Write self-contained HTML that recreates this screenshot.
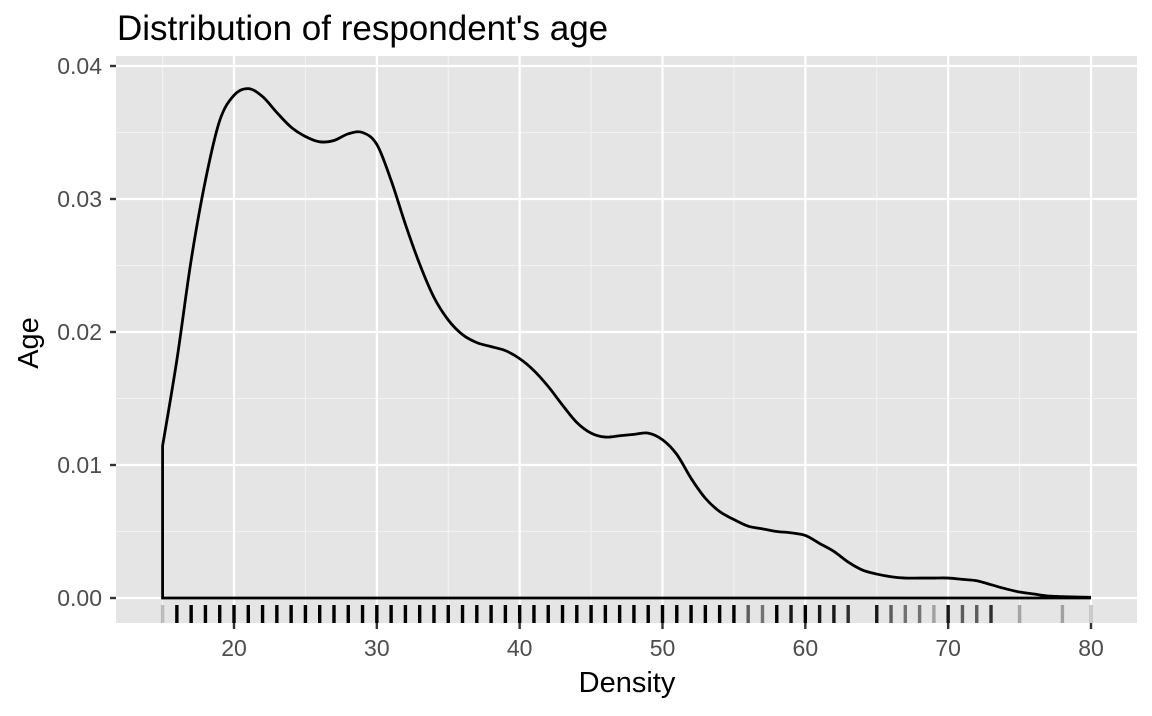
<!DOCTYPE html>
<html><head><meta charset="utf-8"><style>
body{margin:0;background:#fff;}
text{font-family:"Liberation Sans",Arial,sans-serif;}
</style></head><body>
<svg width="1152" height="711">
<text x="117" y="40" font-size="35" fill="#000">Distribution of respondent's age</text>
<rect x="116" y="56" width="1021" height="567" fill="#e5e5e5"/>
<g id="grid"></g>
<g id="rug"></g>
<path id="curve" fill="none" stroke="#000" stroke-width="2.8"/>
<g id="axes"></g>
<text x="627" y="692" font-size="29" text-anchor="middle">Density</text>
<text transform="translate(38,343) rotate(-90)" font-size="29" text-anchor="middle">Age</text>
</svg>
<script>
const ages=[15,16,17,18,19,20,21,22,23,24,25,26,27,28,29,30,31,32,33,34,35,36,37,38,39,40,41,42,43,44,45,46,47,48,49,50,51,52,53,54,55,56,57,58,59,60,61,62,63,64,65,66,67,68,69,70,71,72,73,74,75,76,77,78,79,80];
const density=[.01143,.0179,.0254,.0314,.0359,.0378,.0383,.0377,.0365,.0354,.0347,.0343,.0344,.0349,.0350,.0341,.0314,.0281,.0251,.0226,.0209,.0198,.0192,.0189,.0186,.0180,.0171,.0159,.0145,.0132,.0124,.0121,.0122,.0123,.0124,.0119,.0108,.0090,.0075,.0065,.0059,.0054,.0052,.0050,.0049,.0047,.0041,.0035,.0027,.0021,.0018,.0016,.0015,.0015,.0015,.0015,.0014,.0013,.0010,.0007,.00045,.0003,.00015,.0001,.00007,.00005];
const rugAges=[15,16,17,18,19,20,21,22,23,24,25,26,27,28,29,30,31,32,33,34,35,36,37,38,39,40,41,42,43,44,45,46,47,48,49,50,51,52,53,54,55,56,57,58,59,60,61,62,63,65,66,67,68,69,70,71,72,73,75,78,80];
const rugAlpha=[.2,1,1,1,1,1,1,1,1,1,1,1,1,1,1,1,1,1,1,1,1,1,1,1,1,1,1,1,1,1,1,1,1,1,1,1,1,1,1,1,1,.6,.5,1,.9,1,.9,.9,.8,.9,.6,.5,.5,.3,.9,.6,.6,.8,.3,.3,.2];
const xTicks=[20,30,40,50,60,70,80];
const yTicks=[0,0.01,0.02,0.03,0.04];
const yTickLabels=["0.00","0.01","0.02","0.03","0.04"];
const NS="http://www.w3.org/2000/svg";
const X=v=>234+(v-20)*(1091-234)/60;
const Y=v=>598-v*(598-66)/0.04;
function mk(tag,attrs,parent){const e=document.createElementNS(NS,tag);for(const k in attrs)e.setAttribute(k,attrs[k]);document.getElementById(parent).appendChild(e);return e;}
for(let i=0;i<xTicks.length-1;i++){const l=mk('line',{x1:X(xTicks[i]+5),x2:X(xTicks[i]+5),y1:56,y2:623,stroke:'#f2f2f2','stroke-width':1.1},'grid');
}
{const l=mk('line',{x1:X(15),x2:X(15),y1:56,y2:623,stroke:'#f2f2f2','stroke-width':1.1},'grid');}
for(let i=0;i<yTicks.length-1;i++){const v=(yTicks[i]+yTicks[i+1])/2;const l=mk('line',{x1:116,x2:1137,y1:Y(v),y2:Y(v),stroke:'#f2f2f2','stroke-width':1.1},'grid');
}
xTicks.forEach(t=>{const l=mk('line',{x1:X(t),x2:X(t),y1:56,y2:623,stroke:'#fff','stroke-width':2.2},'grid');

const tk=mk('line',{x1:X(t),x2:X(t),y1:623,y2:629,stroke:'#333','stroke-width':2.4},'axes');

const tx=mk('text',{x:X(t),y:656,'font-size':23,'text-anchor':'middle',fill:'#4d4d4d'},'axes');tx.textContent=t;
});
yTicks.forEach((t,i)=>{const l=mk('line',{x1:116,x2:1137,y1:Y(t),y2:Y(t),stroke:'#fff','stroke-width':2.2},'grid');

const tk=mk('line',{x1:110,x2:116,y1:Y(t),y2:Y(t),stroke:'#333','stroke-width':2.4},'axes');

const tx=mk('text',{x:102,y:Y(t)+8,'font-size':23,'text-anchor':'end',fill:'#4d4d4d'},'axes');tx.textContent=yTickLabels[i];
});
rugAges.forEach((a,i)=>{const l=mk('line',{x1:X(a),x2:X(a),y1:605,y2:623,stroke:'#000','stroke-width':3.4,'stroke-opacity':rugAlpha[i]},'rug');
});
const pts=ages.map((a,i)=>[X(a),Y(density[i])]);
let d=`M${X(ages[ages.length-1])},${Y(0)} L${X(ages[0])},${Y(0)} L${pts[0][0]},${pts[0][1]}`;
for(let i=0;i<pts.length-1;i++){const p0=pts[Math.max(0,i-1)],p1=pts[i],p2=pts[i+1],p3=pts[Math.min(pts.length-1,i+2)];
d+=` C${p1[0]+(p2[0]-p0[0])/6},${p1[1]+(p2[1]-p0[1])/6} ${p2[0]-(p3[0]-p1[0])/6},${p2[1]-(p3[1]-p1[1])/6} ${p2[0]},${p2[1]}`;}
document.getElementById('curve').setAttribute('d',d);
</script>
</body></html>
